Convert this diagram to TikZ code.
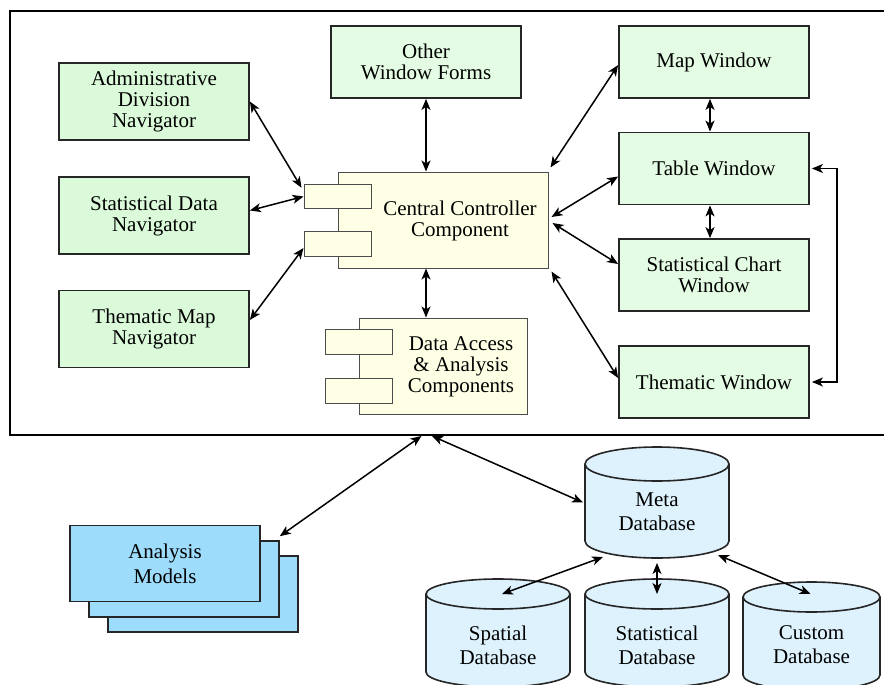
\documentclass[tikz,border=0pt]{standalone}
\usepackage{fontspec}
\setmainfont{Liberation Serif}
\usetikzlibrary{arrows.meta,calc}
\definecolor{navfill}{HTML}{DAFADA}
\definecolor{winfill}{HTML}{E4FCE4}
\definecolor{compfill}{HTML}{FFFFE6}
\definecolor{amfill}{HTML}{9EDCFC}
\definecolor{dbfill}{HTML}{DDF2FC}
\newcommand{\dbcyl}[3]{%
  \filldraw[fill=dbfill,draw=black!85,line width=1.6pt] (#1.north west) -- (#1.south west)
    arc[start angle=180,end angle=360,x radius=#2,y radius=#3] -- (#1.north east)
    arc[start angle=0,end angle=180,x radius=#2,y radius=#3] -- cycle;
  \draw[black!85,line width=1.6pt] (#1.north west)
    arc[start angle=180,end angle=360,x radius=#2,y radius=#3];}
\begin{document}
\begin{tikzpicture}[x=1pt,y=-1pt,
  box/.style={draw=black!85,line width=1.8pt,align=center,inner sep=0pt,
    font=\fontsize{21}{21}\selectfont},
  navbox/.style={box,fill=navfill,minimum width=190pt,minimum height=77pt},
  winbox/.style={box,fill=winfill,minimum width=190pt,minimum height=72pt},
  comp/.style={draw=black!70,line width=1pt,fill=compfill,inner sep=0pt},
  tab/.style={comp,minimum width=67pt,minimum height=24.5pt},
  lbl/.style={align=center,inner sep=0pt,font=\fontsize{21}{21}\selectfont},
  dblbl/.style={align=center,inner sep=0pt,font=\fontsize{21}{24}\selectfont},
  ambox/.style={draw=black!85,line width=1.6pt,fill=amfill,minimum width=190pt,
    minimum height=76pt,align=center,inner sep=0pt,font=\fontsize{21}{25}\selectfont},
  body/.style={inner sep=0pt,outer sep=0pt},
  arr/.style={{Stealth[length=11pt,width=9pt,inset=3pt]}-{Stealth[length=11pt,width=9pt,inset=3pt]},line width=1.5pt}
]
\clip (0,0) rectangle (884,685);
% outer frame
\draw[line width=2pt] (900,11) -- (10,11) -- (10,435) -- (900,435);
\coordinate (fa) at (421.5,436);
\coordinate (fb) at (432,436);

% navigators
\node[navbox] (adn) at (154,101.5) {Administrative\\Division\\Navigator};
\node[navbox] (sdn) at (154,215.5) {Statistical Data\\Navigator};
\node[navbox] (tmn) at (154,329) {Thematic Map\\Navigator};
% windows
\node[winbox] (owf) at (426,62) {Other\\Window Forms};
\node[winbox] (mw) at (714,62) {Map Window};
\node[winbox] (tw) at (714,168.5) {Table Window};
\node[winbox] (scw) at (714,275) {Statistical Chart\\Window};
\node[winbox] (thw) at (714,382) {Thematic Window};

% central controller component
\node[comp,minimum width=210pt,minimum height=96pt] (cc) at (443,220) {};
\node[tab] (t1) at (337.5,196.5) {};
\node[tab] (t2) at (337.5,244) {};
\node[lbl] (cct) at (460,221) {Central Controller\\Component};

% data access component
\node[comp,minimum width=168pt,minimum height=96pt] (da) at (443,366) {};
\node[tab] (t3) at (358.5,342) {};
\node[tab] (t4) at (358.5,391) {};
\node[lbl] (dat) at (461,367) {Data Access\\\& Analysis\\Components};

% analysis models
\node[ambox] (am3) at (203,594) {};
\node[ambox] (am2) at (184,579) {};
\node[ambox] (am1) at (165,563.5) {Analysis\\Models};

% databases
\node[body,minimum width=144pt,minimum height=77pt] (meta) at (657,502.5) {};
\dbcyl{meta}{72pt}{17pt}
\node[dblbl] (metat) at (657,512) {Meta\\Database};
\node[body,minimum width=144pt,minimum height=78pt] (sp) at (498,633) {};
\dbcyl{sp}{72pt}{15pt}
\node[dblbl] (spt) at (498,645) {Spatial\\Database};
\node[body,minimum width=144pt,minimum height=78pt] (st) at (657,633) {};
\dbcyl{st}{72pt}{15pt}
\node[dblbl] (stt) at (657,645) {Statistical\\Database};
\node[body,minimum width=137pt,minimum height=78pt] (cu) at (811.5,636) {};
\dbcyl{cu}{68.5pt}{15pt}
\node[dblbl] (cut) at (811.5,645) {Custom\\Database};

% connectors
\draw[arr] (adn.east) -- ([shift={(-2pt,-4pt)}]t1.north west);
\draw[arr] ([yshift=5pt]sdn.east) -- (t1.west);
\draw[arr] ([yshift=9pt]tmn.east) -- ([yshift=-4pt]t2.west);
\draw[arr] (owf.south) -- (owf.south |- cc.north);
\draw[arr] ([yshift=-3pt]mw.west) -- ([shift={(2pt,4pt)}]cc.north east);
\draw[arr] ([yshift=-8pt]tw.west) -- ([shift={(3pt,3pt)}]cc.east);
\draw[arr] ([yshift=11pt]scw.west) -- ([shift={(4pt,-3pt)}]cc.east);
\draw[arr] ([yshift=4pt]thw.west) -- ([shift={(3pt,-3pt)}]cc.south east);
\draw[arr] ([xshift=-4pt]mw.south) -- ([xshift=-4pt]tw.north);
\draw[arr] ([xshift=-4pt]tw.south) -- ([xshift=-4pt]scw.north);
\draw[arr] (owf.south |- cc.south) -- (owf.south |- da.north);
\draw[arr] ([xshift=2pt]tw.east) -- ++(25,0) |- ([xshift=2pt]thw.east);
\draw[arr] (fa) -- ([yshift=4pt]am2.north east);
\draw[arr] (fb) -- ([xshift=-2pt]meta.west);
\draw[arr] ([shift={(-54pt,-16pt)}]meta.south) -- ([shift={(4pt,0pt)}]sp.north);
\draw[arr] ([yshift=-22pt]meta.south) -- (st.north);
\draw[arr] ([shift={(61pt,-14pt)}]meta.south) -- ([shift={(-1pt,3pt)}]cu.north);
\end{tikzpicture}
\end{document}
